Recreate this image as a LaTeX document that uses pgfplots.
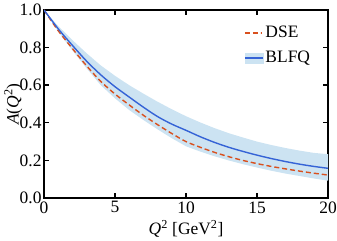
\documentclass[border=0pt]{standalone}
\usepackage{fontspec}
\setmainfont{Liberation Serif}
\usepackage{pgfplots}
\usepackage{pgfplotstable}
\pgfplotsset{compat=1.18}
\usepgfplotslibrary{fillbetween}
\definecolor{dse}{HTML}{D9501E}
\definecolor{blfq}{HTML}{3563D6}
\definecolor{band}{HTML}{CCE3F2}
\pgfplotstableread{
x up lo blfq dse
0 1.000 1.000 1.000 1.000
1 0.915 0.885 0.900 0.890
2 0.840 0.785 0.812 0.795
3 0.770 0.690 0.728 0.703
4 0.705 0.600 0.655 0.620
5 0.650 0.530 0.592 0.553
6 0.600 0.468 0.537 0.495
7 0.555 0.415 0.483 0.440
8 0.512 0.365 0.433 0.390
9 0.472 0.318 0.393 0.343
10 0.435 0.275 0.360 0.300
11 0.402 0.247 0.326 0.270
12 0.372 0.222 0.296 0.243
13 0.345 0.200 0.270 0.220
14 0.322 0.180 0.248 0.200
15 0.300 0.162 0.228 0.183
16 0.282 0.145 0.210 0.168
17 0.266 0.130 0.194 0.155
18 0.252 0.117 0.180 0.143
19 0.240 0.104 0.168 0.132
20 0.233 0.092 0.158 0.122
}\datatable
\begin{document}
\begin{tikzpicture}[font=\rmfamily\fontsize{17.5}{20}\selectfont]
\begin{axis}[
  name=ax, at={(0,0)}, anchor=south west,
  scale only axis, width=284bp, height=188bp,
  xmin=0, xmax=20, ymin=0, ymax=1,
  xtick={0,5,10,15,20}, ytick={0,0.2,0.4,0.6,0.8,1.0},
  tick align=inside, major tick length=5bp,
  minor tick num=0,
  axis line style={line width=1.6bp},
  every tick/.style={black, line width=1.4bp},
  /pgf/number format/assume math mode=true,
  ticklabel style={font=\rmfamily\fontsize{17.5}{20}\selectfont},
  yticklabel style={/pgf/number format/fixed, /pgf/number format/fixed zerofill, /pgf/number format/precision=1, xshift=1bp},
  xticklabel style={yshift=0bp},
  xlabel={\textit{Q}\textsuperscript{2} [GeV\textsuperscript{2}]},
  ylabel={\textit{A}(\textit{Q}\textsuperscript{2})},
  xlabel style={at={(axis description cs:0.5,-0.165)}, anchor=center},
  ylabel style={at={(axis description cs:-0.108,0.5)}, anchor=center},
  legend style={draw=none, fill=none, at={(0.955,0.935)}, anchor=north east,
    row sep=8bp, font=\rmfamily\fontsize{17.5}{20}\selectfont},
  legend cell align=left,
]
\addplot[name path=up, draw=none, forget plot] table[x=x, y=up] {\datatable};
\addplot[name path=lo, draw=none, forget plot] table[x=x, y=lo] {\datatable};
\addplot[band, forget plot] fill between[of=up and lo];
\addplot[dse, line width=1.4bp, dash pattern=on 5bp off 3bp, smooth] table[x=x, y=dse] {\datatable};
\addlegendentry{DSE}
\addplot[blfq, line width=1.4bp, smooth, forget plot] table[x=x, y=blfq] {\datatable};
\addlegendimage{legend image code/.code={
  \fill[band] (0bp,-5bp) rectangle (18bp,5bp);
  \draw[blfq, line width=1.4bp] (0bp,0bp) -- (18bp,0bp);}}
\addlegendentry{BLFQ}
\end{axis}
\pgfresetboundingbox
\path[use as bounding box] (ax.south west) ++(-44bp,-43bp) rectangle ++(337bp,241bp);
\end{tikzpicture}
\end{document}
